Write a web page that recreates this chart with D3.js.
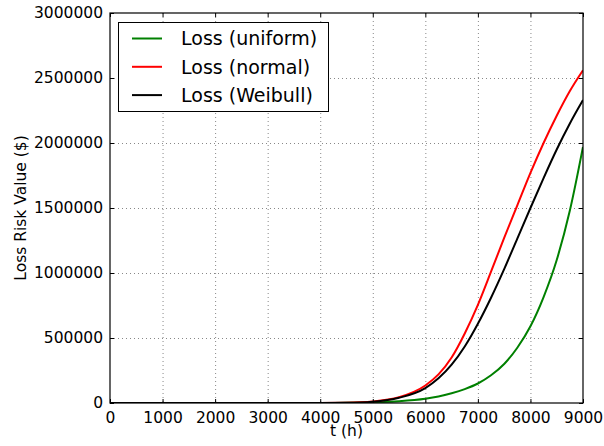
<!DOCTYPE html>
<html><head><meta charset="utf-8">
<script src="https://cdn.jsdelivr.net/npm/d3@7"></script>
<style>body{margin:0;background:#fff;} svg{display:block;font-family:"DejaVu Sans",sans-serif;}</style>
</head><body><svg id="c" width="604" height="446"></svg>
<script>
const tValues = [0,1000,2000,3000,4000,4500,5000,5500,6000,6250,6500,6750,7000,7250,7500,7750,8000,8250,8500,8750,9000];
const lossUniform = [0,0,0,0,300,1000,5000,14000,33000,50000,75000,107000,150000,213000,300000,425000,590000,815000,1100000,1480000,1970000];
const lossNormal  = [0,0,0,0,800,2500,12000,45000,135000,220000,350000,535000,755000,1010000,1270000,1520000,1770000,2000000,2210000,2400000,2560000];
const lossWeibull = [0,0,0,0,500,1800,10000,40000,115000,190000,295000,435000,610000,810000,1030000,1265000,1500000,1730000,1950000,2150000,2330000];
const seriesNames = ["Loss (uniform)","Loss (normal)","Loss (Weibull)"];
const seriesColors = ["#008000","#ff0000","#000000"];
const xTicks = [0,1000,2000,3000,4000,5000,6000,7000,8000,9000];
const yTicks = [0,500000,1000000,1500000,2000000,2500000,3000000];

const svg = d3.select("#c");
const L=110,R=583,T=13,B=403;
const x = d3.scaleLinear().domain([0,9000]).range([L,R]);
const y = d3.scaleLinear().domain([0,3000000]).range([B,T]);

// grid
const g = svg.append("g");
g.selectAll(".gx").data(xTicks.slice(1,-1)).enter().append("line")
 .attr("x1",d=>x(d)+0.5).attr("x2",d=>x(d)+0.5).attr("y1",T).attr("y2",B)
 .attr("stroke","#888").attr("stroke-width",1).attr("stroke-dasharray","1,3");
g.selectAll(".gy").data(yTicks.slice(1,-1)).enter().append("line")
 .attr("y1",d=>y(d)+0.5).attr("y2",d=>y(d)+0.5).attr("x1",L).attr("x2",R)
 .attr("stroke","#888").attr("stroke-width",1).attr("stroke-dasharray","1,3");

// lines
const allSeries=[lossUniform,lossNormal,lossWeibull];
const line = d3.line().x((d,i)=>x(tValues[i])).y(d=>y(d)).curve(d3.curveMonotoneX);
svg.append("clipPath").attr("id","cp").append("rect").attr("x",L).attr("y",T).attr("width",R-L).attr("height",B-T);
allSeries.forEach((s,k)=>{
  svg.append("path").datum(s).attr("d",line).attr("fill","none")
   .attr("stroke",seriesColors[k]).attr("stroke-width",2).attr("clip-path","url(#cp)");
});

// axes (ticks inward)
const xb = svg.append("g").attr("transform",`translate(0,${B})`)
 .call(d3.axisBottom(x).tickValues(xTicks).tickFormat(d3.format("d")).tickSizeInner(-4).tickSizeOuter(0).tickPadding(9));
const xt = svg.append("g").attr("transform",`translate(0,${T})`)
 .call(d3.axisTop(x).tickValues(xTicks).tickFormat("").tickSizeInner(-4).tickSizeOuter(0));
const yl = svg.append("g").attr("transform",`translate(${L},0)`)
 .call(d3.axisLeft(y).tickValues(yTicks).tickFormat(d3.format("d")).tickSizeInner(-4).tickSizeOuter(0).tickPadding(7));
const yr = svg.append("g").attr("transform",`translate(${R},0)`)
 .call(d3.axisRight(y).tickValues(yTicks).tickFormat("").tickSizeInner(-4).tickSizeOuter(0));
[xb,xt,yl,yr].forEach(a=>{a.select(".domain").remove(); a.selectAll("text").attr("font-size",15.5).attr("fill","#000").attr("font-family","DejaVu Sans");});
svg.append("rect").attr("x",L).attr("y",T).attr("width",R-L).attr("height",B-T)
 .attr("fill","none").attr("stroke","#000").attr("stroke-width",1.2);

svg.append("text").attr("x",(L+R)/2).attr("y",436).attr("text-anchor","middle")
 .attr("font-size",15.5).text("t (h)");
svg.append("text").attr("transform",`translate(26,${(T+B)/2}) rotate(-90)`).attr("text-anchor","middle")
 .attr("font-size",15.5).text("Loss Risk Value ($)");

// legend
const lg = svg.append("g");
lg.append("rect").attr("x",118.5).attr("y",22.5).attr("width",210).attr("height",89)
 .attr("fill","#fff").attr("stroke","#000").attr("stroke-width",1);
seriesNames.forEach((n,k)=>{
  const yy = 38.5+k*28.3;
  lg.append("line").attr("x1",132).attr("x2",162).attr("y1",yy).attr("y2",yy)
   .attr("stroke",seriesColors[k]).attr("stroke-width",2);
  lg.append("text").attr("x",181).attr("y",yy).attr("dy","0.36em").attr("font-size",19).text(n);
});
</script></body></html>
